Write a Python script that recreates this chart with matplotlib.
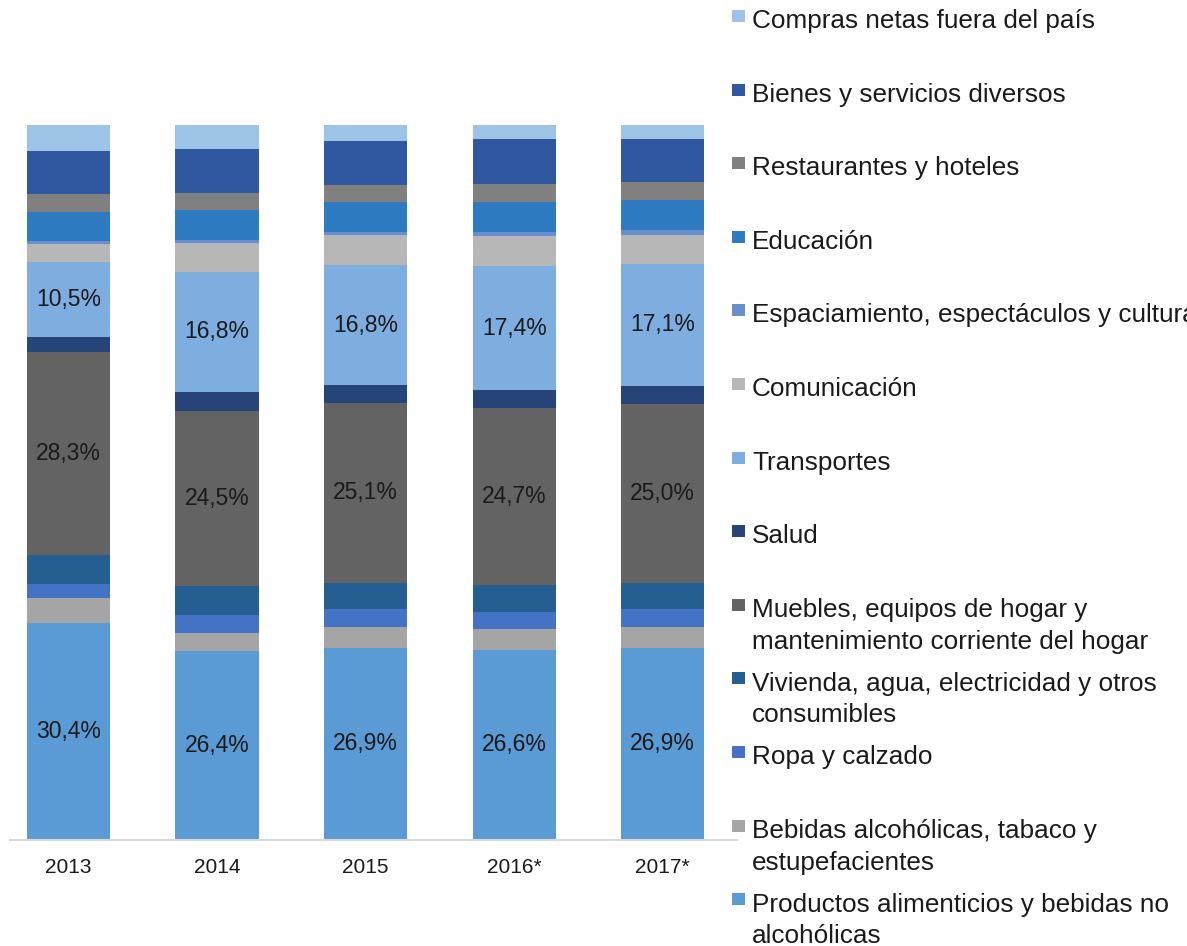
import numpy as np
import matplotlib
matplotlib.use('Agg')
import matplotlib.pyplot as plt
from matplotlib.patches import Rectangle

plt.rcParams['font.family'] = ['Liberation Sans', 'DejaVu Sans']

years = ['2013', '2014', '2015', '2016*', '2017*']

# de abajo hacia arriba
categorias = [
    'Productos alimenticios y bebidas no\nalcohólicas',
    'Bebidas alcohólicas, tabaco y\nestupefacientes',
    'Ropa y calzado',
    'Vivienda, agua, electricidad y otros\nconsumibles',
    'Muebles, equipos de hogar y\nmantenimiento corriente del hogar',
    'Salud',
    'Transportes',
    'Comunicación',
    'Espaciamiento, espectáculos y cultura',
    'Educación',
    'Restaurantes y hoteles',
    'Bienes y servicios diversos',
    'Compras netas fuera del país',
]

alimentos = [30.4, 26.4, 26.9, 26.6, 26.9]
bebidas = [3.4, 2.6, 2.9, 2.9, 2.9]
ropa = [2.0, 2.5, 2.5, 2.4, 2.5]
vivienda = [4.1, 4.0, 3.7, 3.8, 3.7]
muebles = [28.3, 24.5, 25.1, 24.7, 25.0]
salud = [2.1, 2.7, 2.5, 2.5, 2.5]
transportes = [10.5, 16.8, 16.8, 17.4, 17.1]
comunicacion = [2.6, 4.0, 4.2, 4.2, 4.0]
esparcimiento = [0.4, 0.4, 0.4, 0.5, 0.7]
educacion = [4.0, 4.2, 4.2, 4.3, 4.2]
restaurantes = [2.6, 2.4, 2.4, 2.5, 2.5]
bienes = [5.9, 6.1, 6.1, 6.3, 6.1]
compras = [3.7, 3.4, 2.3, 1.9, 1.9]

series = [alimentos, bebidas, ropa, vivienda, muebles, salud, transportes,
          comunicacion, esparcimiento, educacion, restaurantes, bienes, compras]

colores = ['#5B9BD5', '#A5A5A5', '#4472C4', '#255E91', '#636363', '#264478',
           '#7DAEDF', '#B7B7B7', '#698ED0', '#2E7BC1', '#808080', '#3058A0',
           '#9DC3E6']

# segmentos con etiqueta
etiquetados = [0, 4, 6]

fig = plt.figure(figsize=(11.87, 9.46), dpi=100)
W, H = 1187, 946
ax = fig.add_axes([10 / W, 1 - 840 / H, 727 / W, 715 / H])

x = np.arange(len(years))
bottom = np.zeros(len(years))
for i, (vals, col) in enumerate(zip(series, colores)):
    vals = np.array(vals)
    ax.bar(x, vals, width=0.56, bottom=bottom, color=col, linewidth=0)
    if i in etiquetados:
        for xi, v, b in zip(x, vals, bottom):
            ax.text(xi, b + v / 2, f'{v:.1f}%'.replace('.', ','),
                    ha='center', va='center', fontsize=16.5, color='#1a1a1a')
    bottom += vals

ax.set_xlim(-0.394, 4.5)
ax.set_ylim(0, 100)
ax.set_xticks(x)
ax.set_xticklabels(years, fontsize=15, color='#1a1a1a')
ax.tick_params(axis='x', length=0, pad=13)
ax.set_yticks([])
for s in ['top', 'right', 'left']:
    ax.spines[s].set_visible(False)
ax.spines['bottom'].set_color('#D9D9D9')
ax.spines['bottom'].set_linewidth(1.5)

# leyenda manual (de arriba hacia abajo)
for k, i in enumerate(range(len(categorias) - 1, -1, -1)):
    base = 28 + 73.6 * k
    n_lineas = categorias[i].count('\n')
    fig.add_artist(Rectangle((732 / W, 1 - (base - 6) / H), 13 / W, 12 / H,
                             transform=fig.transFigure, color=colores[i],
                             linewidth=0))
    fig.text(752 / W, 1 - (base + 32 * n_lineas) / H, categorias[i],
             ha='left', va='baseline', fontsize=18.8, color='#1a1a1a',
             linespacing=1.39)

fig.savefig('out.png', dpi=100)
